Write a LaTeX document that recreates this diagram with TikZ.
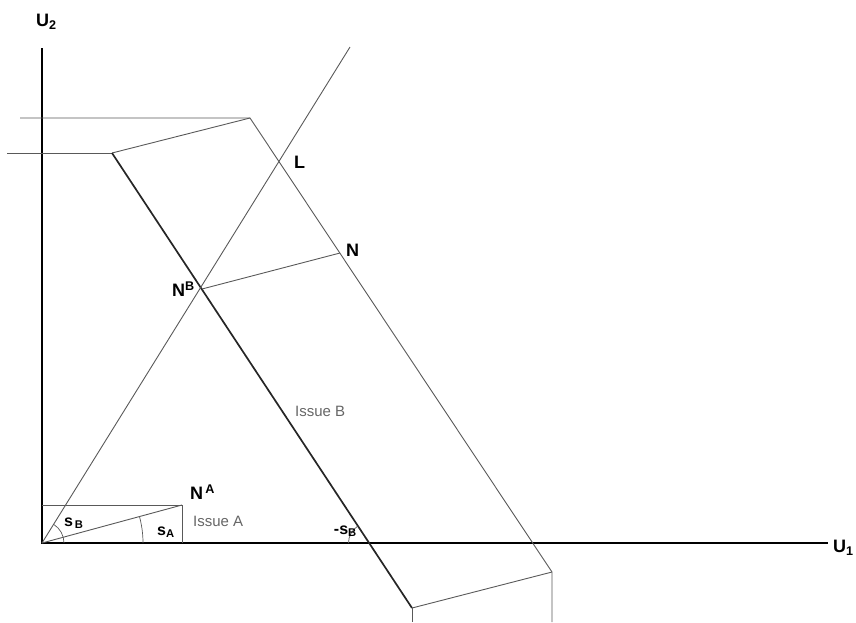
\documentclass[tikz,border=0pt]{standalone}
\usepackage{fontspec}
\setmainfont{Liberation Sans}
\begin{document}
\begin{tikzpicture}[x=1pt,y=1pt,
  axis/.style={line width=1.8pt,black},
  ln/.style={line width=0.9pt,black!65},
  thk/.style={line width=1.7pt,black!85},
  lab/.style={font=\fontsize{18}{20}\selectfont\bfseries,inner sep=0pt},
  txt/.style={font=\fontsize{15}{17}\selectfont,text=black!60,inner sep=0pt},
  ang/.style={font=\fontsize{16}{18}\selectfont\bfseries,inner sep=0pt}]
\useasboundingbox (0,0) rectangle (856,-622);
% coordinates
\coordinate (O) at (42,-543);
\coordinate (Yt) at (42,-48);
\coordinate (Xe) at (828,-543);
\coordinate (T1) at (250,-118);
\coordinate (H1) at (20,-118);
\coordinate (T2) at (112,-153);
\coordinate (H2) at (7,-153);
\coordinate (NB) at (202,-289);
\coordinate (L) at (280,-162);
\coordinate (N) at (340,-253);
\coordinate (X1) at (368.5,-543);
\coordinate (B1) at (412,-608);
\coordinate (B1d) at (412,-622);
\coordinate (B2) at (552,-572);
\coordinate (B2d) at (552,-622);
\coordinate (Rt) at (350,-47);
\coordinate (NA) at (182,-505);
\coordinate (NAd) at (182,-543);
\coordinate (R1) at (42,-505);
% axes
\draw[axis] (Yt) -- (O) -- (Xe);
% structure
\draw[ln] (H1) -- (T1) -- (B2) -- (B2d);
\draw[ln] (H2) -- (T2);
\draw[ln] (T2) -- (T1);
\draw[thk] (T2) -- (B1);
\draw[ln] (B1) -- (B1d);
\draw[ln] (B1) -- (B2);
\draw[ln] (O) -- (Rt);
\draw[ln] (NB) -- (N);
\draw[ln] (R1) -- (NA) -- (NAd);
\draw[ln] (O) -- (NA);
% angle arcs
\draw[ln,line width=0.7pt] ([shift={(0:22)}]O) arc[start angle=0,end angle=58,radius=22];
\draw[ln,line width=0.7pt] ([shift={(0:101)}]O) arc[start angle=0,end angle=15.2,radius=101];
\draw[ln,line width=0.7pt] ([shift={(180:20)}]X1) arc[start angle=180,end angle=123.5,radius=20];
% labels
\node[lab,anchor=west] (u2) at (36,-22) {U\textsubscript{2}};
\node[lab,anchor=west] (u1) at (833,-548) {U\textsubscript{1}};
\node[lab,anchor=south west] (na) at (190,-500) {N\textsuperscript{\,A}};
\node[txt,anchor=west] (ia) at (193,-521) {Issue A};
\node[ang,anchor=south west] (sa) at (157,-538) {s\textsubscript{A}};
\node[ang,anchor=south west] (sb) at (64,-529) {s\textsubscript{\,B}};
\node[lab,anchor=south east] (nb) at (195,-297) {N\textsuperscript{B}};
\node[lab,anchor=west] (nl) at (346,-250) {N};
\node[lab,anchor=west] (ll) at (294,-162) {L};
\node[txt,anchor=west] (ib) at (295,-411) {Issue B};
\node[ang,anchor=south east] (msb) at (357,-537) {-s\textsubscript{B}};
\end{tikzpicture}
\end{document}
